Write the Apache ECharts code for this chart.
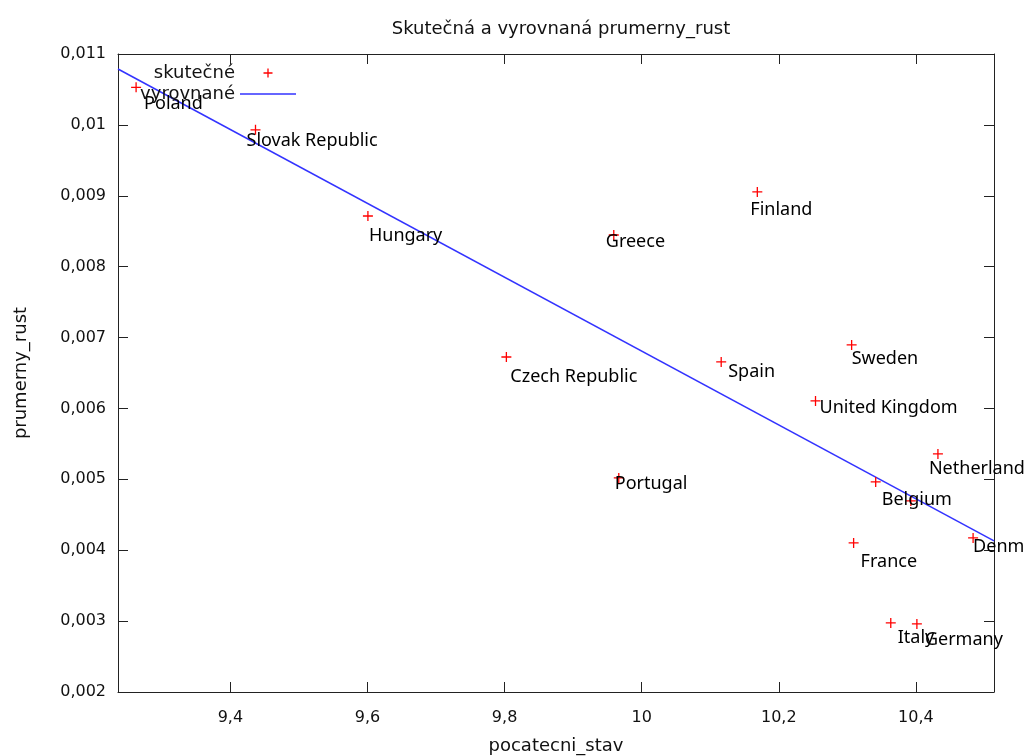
<!DOCTYPE html>
<html>
<head>
<meta charset="utf-8">
<script src="https://cdn.jsdelivr.net/npm/echarts@6/dist/echarts.min.js"></script>
<style>html,body{margin:0;padding:0;background:#fff}#c{width:1024px;height:756px}</style>
</head>
<body>
<div id="c"></div>
<script>
// ---- data ----
var countries = ['Poland','Slovak Republic','Hungary','Greece','Finland','Czech Republic','Spain','Sweden','United Kingdom','Portugal','Netherlands','Belgium','Austria','France','Denmark','Italy','Germany'];
var pocatecniStav = [9.2624, 9.4366, 9.6006, 9.9593, 10.1687, 9.8026, 10.1160, 10.3063, 10.2536, 9.9666, 10.4322, 10.3414, 10.3927, 10.3092, 10.4835, 10.3634, 10.4015];
var prumernyRust = [0.01053, 0.00993, 0.008715, 0.008447, 0.009054, 0.006726, 0.006656, 0.006896, 0.006106, 0.00502, 0.005358, 0.004963, 0.004695, 0.004103, 0.004173, 0.002975, 0.00296];
var showName = [true,true,true,true,true,true,true,true,true,true,true,true,false,true,true,true,true];
// fitted line (vyrovnané), endpoints read at the plot edges
var fitX = [9.236, 10.514];
var fitY = [0.010788, 0.004131];
var xTicks = [9.4, 9.6, 9.8, 10, 10.2, 10.4];
var yTicks = [0.002, 0.003, 0.004, 0.005, 0.006, 0.007, 0.008, 0.009, 0.01, 0.011];

// ---- layout: label nudges (px, relative to marker centre) ----
var labelShift = [[8,17],[-9,11],[1,20],[-8,7],[-7,18],[4,20],[7,10],[0,14],[4,7],[-4,6],[-9,15],[6,18],[0,0],[7,19],[0,9],[7,15],[8,16]];

var FONT = 'DejaVu Sans';
var MS = 10; // marker size
var fmt = function (v) { return String(parseFloat(Number(v).toFixed(5))).replace('.', ','); };
var plusPath = 'path://M4.35,0H5.65V4.35H10V5.65H5.65V10H4.35V5.65H0V4.35H4.35Z';
var plusIcon = 'path://M0,0M56,14M27.35,2.5H28.65V6.35H32.5V7.65H28.65V11.5H27.35V7.65H23.5V6.35H27.35Z';
var lineIcon = 'path://M0,0M56,14M0,6.3H56V7.7H0Z';

var scatterData = countries.map(function (n, i) {
  return {
    name: n,
    value: [pocatecniStav[i], prumernyRust[i]],
    label: { show: showName[i], position: [MS / 2 + labelShift[i][0], MS / 2 + labelShift[i][1]] }
  };
});
var fitData = fitX.map(function (x, i) { return [x, fitY[i]]; });

var legendBase = {
  orient: 'vertical', align: 'right', right: 728, padding: 0,
  itemWidth: 56, itemHeight: 14, selectedMode: false,
  textStyle: { fontFamily: FONT, fontSize: 18, color: '#111' }
};

var chart = echarts.init(document.getElementById('c'), null, { renderer: 'canvas' });
var axisLineStyle = { color: '#222', width: 1 };
chart.setOption({
  animation: false,
  backgroundColor: '#fff',
  title: {
    text: 'Skutečná a vyrovnaná prumerny_rust',
    left: 556, top: 15, textAlign: 'center',
    textStyle: { fontFamily: FONT, fontSize: 18, fontWeight: 'normal', color: '#111' }
  },
  legend: [
    Object.assign({}, legendBase, { top: 64, data: [{ name: 'skutečné', icon: plusIcon, itemStyle: { color: '#ff0000' } }] }),
    Object.assign({}, legendBase, { top: 85, data: [{ name: 'vyrovnané', icon: lineIcon, itemStyle: { color: '#3333ff' } }] })
  ],
  grid: { left: 118, right: 30, top: 54, bottom: 64, show: false, containLabel: false, outerBoundsMode: 'none' },
  xAxis: [{
    type: 'value', min: 9.236, max: 10.514, position: 'bottom',
    name: 'pocatecni_stav', nameLocation: 'middle', nameGap: 45,
    nameTextStyle: { fontFamily: FONT, fontSize: 18, color: '#111' },
    axisLine: { show: true, lineStyle: axisLineStyle },
    axisTick: { show: true, inside: true, length: 10, lineStyle: axisLineStyle, customValues: xTicks },
    axisLabel: { fontFamily: FONT, fontSize: 16, color: '#111', margin: 18, formatter: fmt, customValues: xTicks },
    splitLine: { show: false }
  }, {
    type: 'value', min: 9.236, max: 10.514, position: 'top',
    axisLine: { show: true, lineStyle: axisLineStyle },
    axisTick: { show: true, inside: true, length: 10, lineStyle: axisLineStyle, customValues: xTicks },
    axisLabel: { show: false },
    splitLine: { show: false }
  }],
  yAxis: [{
    type: 'value', min: 0.002, max: 0.011, position: 'left',
    name: 'prumerny_rust', nameLocation: 'middle', nameGap: 88, nameRotate: 90,
    nameTextStyle: { fontFamily: FONT, fontSize: 18, color: '#111' },
    axisLine: { show: true, lineStyle: axisLineStyle },
    axisTick: { show: true, inside: true, length: 10, lineStyle: axisLineStyle, customValues: yTicks },
    axisLabel: { fontFamily: FONT, fontSize: 16, color: '#111', margin: 12, formatter: fmt, customValues: yTicks },
    splitLine: { show: false }
  }, {
    type: 'value', min: 0.002, max: 0.011, position: 'right',
    axisLine: { show: true, lineStyle: axisLineStyle },
    axisTick: { show: true, inside: true, length: 10, lineStyle: axisLineStyle, customValues: yTicks },
    axisLabel: { show: false },
    splitLine: { show: false }
  }],
  series: [{
    name: 'skutečné', type: 'scatter', xAxisIndex: 0, yAxisIndex: 0,
    symbol: plusPath, symbolSize: MS,
    itemStyle: { color: '#ff0000', opacity: 1 },
    label: {
      show: true, align: 'left', verticalAlign: 'middle',
      formatter: '{b}', fontFamily: 'Noto Sans', fontSize: 18, color: '#000'
    },
    emphasis: { disabled: true },
    labelLayout: { hideOverlap: false },
    data: scatterData, z: 3
  }, {
    name: 'vyrovnané', type: 'line', xAxisIndex: 0, yAxisIndex: 0,
    symbol: 'none', lineStyle: { color: '#3333ff', width: 1.5 },
    itemStyle: { color: '#3333ff' },
    data: fitData, z: 2
  }]
});
</script>
</body>
</html>
